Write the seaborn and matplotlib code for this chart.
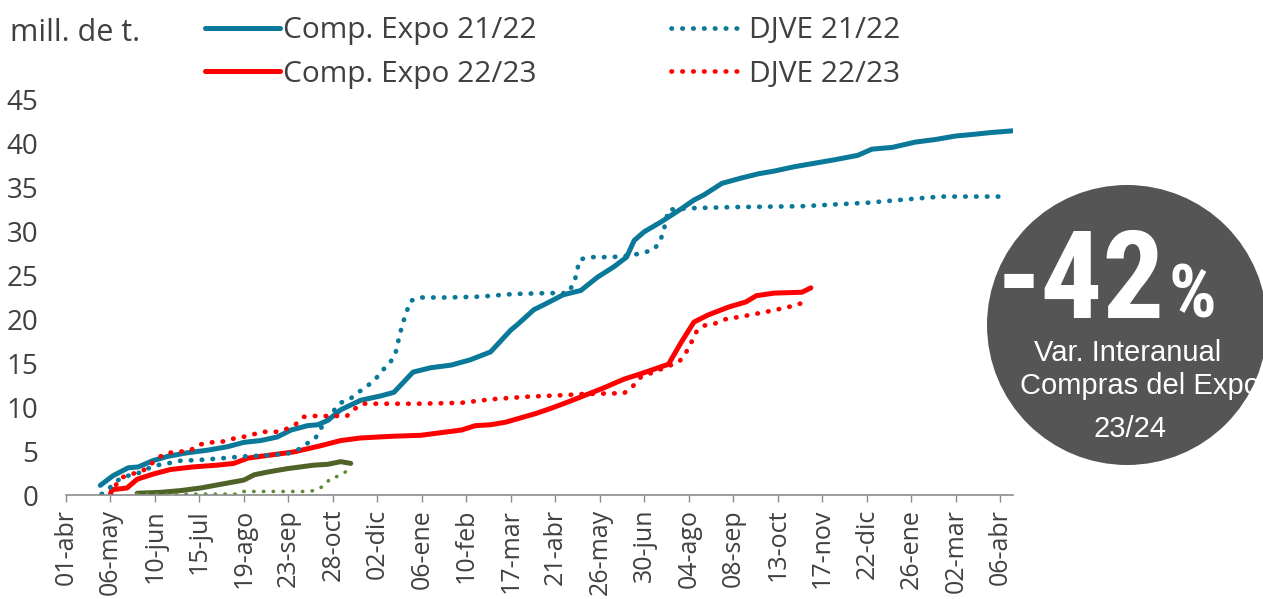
import numpy as np
import pandas as pd
import matplotlib
matplotlib.use("Agg")
import matplotlib.pyplot as plt
import seaborn as sns
from matplotlib.patches import Ellipse

# dias desde 01-abr y millones de toneladas acumuladas
comp_2122_dias = [27, 37, 49, 57, 68, 80, 95, 111, 127, 140, 153, 166, 177, 190, 198, 206, 216, 232, 248, 258,
                  273, 287, 303, 318, 334, 350, 355, 368, 379, 391, 405, 418, 431, 441, 447, 455, 468, 484, 494, 502,
                  516, 531, 545, 557, 573, 589, 605, 623, 634, 650, 668, 684, 700, 715, 728, 746]
comp_2122_val = [1.1, 2.2, 3.1, 3.2, 3.9, 4.4, 4.8, 5.1, 5.5, 6.0, 6.2, 6.6, 7.4, 7.9, 8.0, 8.5, 9.7, 10.8, 11.3, 11.7,
                 14.0, 14.5, 14.8, 15.4, 16.3, 18.8, 19.4, 21.1, 21.9, 22.8, 23.3, 24.8, 26.0, 27.1, 29.0, 30.0, 31.1, 32.6, 33.6, 34.2,
                 35.5, 36.1, 36.6, 36.9, 37.4, 37.8, 38.2, 38.7, 39.4, 39.6, 40.2, 40.5, 40.9, 41.1, 41.3, 41.5]

djve_2122_dias = [28, 35, 41, 49, 57, 64, 72, 80, 90, 106, 124, 140, 156, 174, 182, 190, 196, 200, 210, 216,
                  224, 230, 237, 244, 249, 255, 259, 261, 263, 265, 268, 271, 278, 300, 326, 352, 379, 395, 400, 402,
                  404, 411, 429, 445, 462, 467, 470, 474, 482, 497, 526, 579, 631, 671, 689, 740]
djve_2122_val = [0.1, 0.9, 1.7, 2.2, 2.5, 3.0, 3.4, 3.6, 3.9, 4.0, 4.2, 4.4, 4.5, 4.7, 5.1, 5.9, 6.4, 7.5, 9.5, 10.5,
                 11.0, 11.7, 12.4, 13.3, 14.2, 15.1, 16.0, 17.3, 18.5, 19.6, 20.9, 22.1, 22.5, 22.5, 22.6, 22.9, 23.0, 23.0, 24.3, 25.5,
                 26.8, 27.1, 27.1, 27.3, 27.9, 28.8, 30.0, 32.5, 32.6, 32.7, 32.8, 32.9, 33.3, 33.8, 34.0, 34.0]

comp_2223_dias = [35, 36, 48, 56, 69, 82, 100, 119, 132, 143, 158, 179, 200, 216, 232, 258, 279, 295, 311, 322,
                  334, 346, 358, 370, 382, 395, 423, 439, 452, 474, 484, 494, 505, 521, 535, 543, 557, 579, 586]
comp_2223_val = [0.0, 0.6, 0.8, 1.8, 2.4, 2.9, 3.2, 3.4, 3.6, 4.2, 4.5, 4.9, 5.6, 6.2, 6.5, 6.7, 6.8, 7.1, 7.4, 7.9,
                 8.0, 8.3, 8.8, 9.3, 9.9, 10.6, 12.2, 13.2, 13.8, 14.9, 17.4, 19.7, 20.5, 21.4, 22.0, 22.7, 23.0, 23.1, 23.6]

djve_2223_dias = [35, 39, 44, 52, 60, 66, 73, 80, 88, 98, 104, 113, 121, 131, 139, 147, 155, 165, 173, 181,
                  187, 195, 221, 226, 233, 242, 277, 311, 334, 363, 395, 405, 439, 446, 452, 476, 483, 488, 492, 496,
                  502, 510, 518, 534, 552, 568, 585]
djve_2223_val = [0.1, 1.1, 2.0, 2.4, 2.7, 3.4, 4.3, 4.8, 4.9, 5.1, 5.7, 6.0, 6.0, 6.4, 6.6, 6.9, 7.2, 7.2, 7.5, 8.1,
                 8.9, 9.0, 9.0, 9.7, 10.4, 10.4, 10.4, 10.5, 10.9, 11.2, 11.4, 11.5, 11.6, 12.4, 13.4, 14.8, 15.3, 16.3, 17.4, 18.6,
                 19.3, 19.5, 20.0, 20.4, 20.9, 21.4, 22.1]

comp_2324_dias = [56, 74, 90, 106, 121, 140, 148, 158, 174, 195, 206, 216, 224]
comp_2324_val = [0.2, 0.3, 0.5, 0.8, 1.2, 1.7, 2.3, 2.6, 3.0, 3.4, 3.5, 3.8, 3.6]

djve_2324_dias = [56, 135, 140, 192, 199, 204, 208, 213, 219, 223]
djve_2324_val = [0.1, 0.1, 0.4, 0.4, 0.7, 1.2, 1.9, 2.1, 2.5, 3.2]

etiquetas_x = ["01-abr", "06-may", "10-jun", "15-jul", "19-ago", "23-sep", "28-oct", "02-dic", "06-ene", "10-feb",
               "17-mar", "21-abr", "26-may", "30-jun", "04-ago", "08-sep", "13-oct", "17-nov", "22-dic", "26-ene",
               "02-mar", "06-abr"]

azul = "#0A7899"
rojo = "#FF0000"
verde = "#4F6228"
verde_claro = "#5B8C30"
gris_txt = "#404040"
fuente_cond = ["Roboto Condensed", "Open Sans Condensed", "DejaVu Sans Condensed", "Liberation Sans Narrow",
               "Liberation Sans", "DejaVu Sans"]

sns.set_style("white")
plt.rcParams["font.family"] = ["Open Sans", "DejaVu Sans"]

fig = plt.figure(figsize=(12.63, 5.99), dpi=100)
ax = fig.add_axes([66 / 1263, 104 / 599, (1013 - 66) / 1263, (495 - 100) / 599])

punteado = (0, (0.1, 2.2))
sns.lineplot(x=comp_2122_dias, y=comp_2122_val, ax=ax, color=azul, lw=3.6, label="Comp. Expo 21/22",
             solid_capstyle="round")
sns.lineplot(x=comp_2223_dias, y=comp_2223_val, ax=ax, color=rojo, lw=3.6, label="Comp. Expo 22/23",
             solid_capstyle="round")
sns.lineplot(x=djve_2122_dias, y=djve_2122_val, ax=ax, color=azul, lw=3.4, linestyle=punteado,
             dash_capstyle="round", label="DJVE 21/22")
sns.lineplot(x=djve_2223_dias, y=djve_2223_val, ax=ax, color=rojo, lw=3.4, linestyle=punteado,
             dash_capstyle="round", label="DJVE 22/23")
sns.lineplot(x=comp_2324_dias, y=comp_2324_val, ax=ax, color=verde, lw=3.6, solid_capstyle="round")
sns.lineplot(x=djve_2324_dias, y=djve_2324_val, ax=ax, color=verde_claro, lw=2.6, linestyle=(0, (0.1, 2.6)),
             dash_capstyle="round")

ax.set_xlim(0, 745)
ax.set_ylim(0, 45)
ax.set_xticks(np.arange(len(etiquetas_x)) * 35)
ax.set_xticklabels(etiquetas_x, rotation=90, fontsize=18, color=gris_txt)
ax.set_yticks(range(0, 46, 5))
ax.tick_params(axis="y", length=0, pad=20, labelsize=20, labelcolor=gris_txt)
ax.tick_params(axis="x", length=5, width=1, color="#8C8C8C", direction="out", pad=5, bottom=True)
for s in ["top", "right", "left"]:
    ax.spines[s].set_visible(False)
ax.spines["bottom"].set_color("#8C8C8C")
ax.spines["bottom"].set_linewidth(1.2)
ax.set_xlabel("")
ax.set_ylabel("")
ax.grid(False)

handles, labels = ax.get_legend_handles_labels()
ax.get_legend().remove()
fig.legend(handles, labels, loc="upper left", bbox_to_anchor=(205 / 1263, 1 - 16 / 599), ncol=2, frameon=False,
           fontsize=21.5, handlelength=2.5, handletextpad=0.12, columnspacing=4.5, labelspacing=0.5,
           borderpad=0, borderaxespad=0, labelcolor=gris_txt)

fig.text(10 / 1263, 1 - 33 / 599, "mill. de t.", fontsize=22, color=gris_txt, ha="left", va="center")

# circulo con la variacion interanual
fig.patches.append(Ellipse((1127 / 1263, 1 - 325 / 599), 280 / 1263, 280 / 599, transform=fig.transFigure,
                           facecolor="#555555", edgecolor="none"))
fig.text(1165 / 1263, 1 - 318 / 599, "-42", fontsize=88, color="white", fontweight="bold",
         family=fuente_cond, ha="right", va="baseline")
fig.text(1169 / 1263, 1 - 318 / 599, "%", fontsize=54, color="white", fontweight="bold",
         family=fuente_cond, ha="left", va="baseline")
fig.text(1128 / 1263, 1 - 353 / 599, "Var. Interanual", fontsize=21, color="white",
         family=["Liberation Sans", "DejaVu Sans"], ha="center", va="center")
fig.text(1140 / 1263, 1 - 386 / 599, "Compras del Expo", fontsize=21, color="white",
         family=["Liberation Sans", "DejaVu Sans"], ha="center", va="center")
fig.text(1130 / 1263, 1 - 429 / 599, "23/24", fontsize=21, color="white",
         family=["Liberation Sans", "DejaVu Sans"], ha="center", va="center")

fig.savefig("out.png", dpi=100)
